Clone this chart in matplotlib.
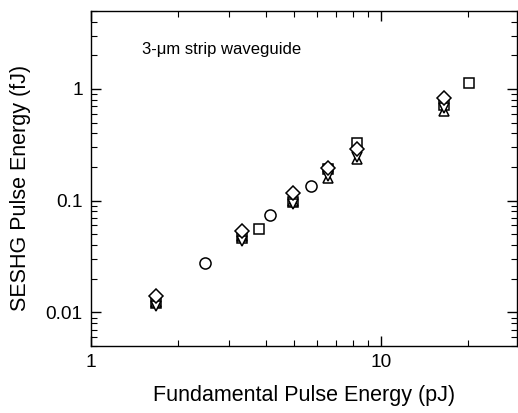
import numpy as np
import matplotlib
matplotlib.use("Agg")
import matplotlib.pyplot as plt
from matplotlib.ticker import LogLocator, NullFormatter, FixedLocator, FixedFormatter

plt.rcParams['font.family'] = ['Liberation Sans', 'DejaVu Sans']

# circles
circ_x = [2.48, 4.13, 5.76]
circ_y = [0.0279, 0.0745, 0.136]
# squares
sq_x = [1.67, 3.32, 3.81, 4.96, 6.59, 8.29, 16.5, 20.2]
sq_y = [0.0122, 0.046, 0.0554, 0.098, 0.19, 0.327, 0.72, 1.12]
# diamonds
dia_x = [1.67, 3.32, 4.96, 6.59, 8.29, 16.5]
dia_y = [0.0141, 0.0531, 0.116, 0.197, 0.291, 0.833]
# triangles up
tup_x = [1.67, 3.32, 4.96, 6.59, 8.29, 16.5]
tup_y = [0.0125, 0.048, 0.100, 0.158, 0.235, 0.63]
# triangles down
tdn_x = [1.67, 3.32, 4.96, 6.59, 8.29, 16.5]
tdn_y = [0.01145, 0.044, 0.093, 0.166, 0.248, 0.677]

fig = plt.figure(figsize=(5.18, 4.13), dpi=100)
ax = fig.add_axes([0.176, 0.162, 0.822, 0.812])

kw = dict(linestyle='none', markerfacecolor='white', markeredgecolor='black', markeredgewidth=1.1)
ax.plot(sq_x, sq_y, marker='s', markersize=7.2, **kw)
ax.plot(tup_x, tup_y, marker='^', markersize=7.5, **kw)
ax.plot(tdn_x, tdn_y, marker='v', markersize=7.5, **kw)
ax.plot(dia_x, dia_y, marker='D', markersize=7.0, **kw)
ax.plot(circ_x, circ_y, marker='o', markersize=8, **kw)

ax.set_xscale('log')
ax.set_yscale('log')
ax.set_xlim(1, 29.5)
ax.set_ylim(0.005, 5)

ax.xaxis.set_major_locator(FixedLocator([1, 10]))
ax.xaxis.set_major_formatter(FixedFormatter(['1', '10']))
ax.yaxis.set_major_locator(FixedLocator([0.01, 0.1, 1]))
ax.yaxis.set_major_formatter(FixedFormatter(['0.01', '0.1', '1']))
ax.xaxis.set_minor_locator(LogLocator(base=10, subs=np.arange(2, 10)))
ax.yaxis.set_minor_locator(LogLocator(base=10, subs=np.arange(2, 10)))
ax.xaxis.set_minor_formatter(NullFormatter())
ax.yaxis.set_minor_formatter(NullFormatter())

ax.tick_params(which='both', direction='in', top=True, right=True, labelsize=13.7)
ax.tick_params(which='major', length=7, width=1, pad=6)
ax.tick_params(which='minor', length=4, width=0.8)
for s in ax.spines.values():
    s.set_linewidth(1)

ax.text(0.12, 0.885, '3-\u03bcm strip waveguide', transform=ax.transAxes,
        fontsize=12, va='center', ha='left')

ax.set_xlabel('Fundamental Pulse Energy (pJ)', fontsize=15.5, labelpad=10)
ax.set_ylabel('SESHG Pulse Energy (fJ)', fontsize=15.5)
ax.yaxis.set_label_coords(-0.141, 0.473)

fig.savefig('out.png', dpi=100)
